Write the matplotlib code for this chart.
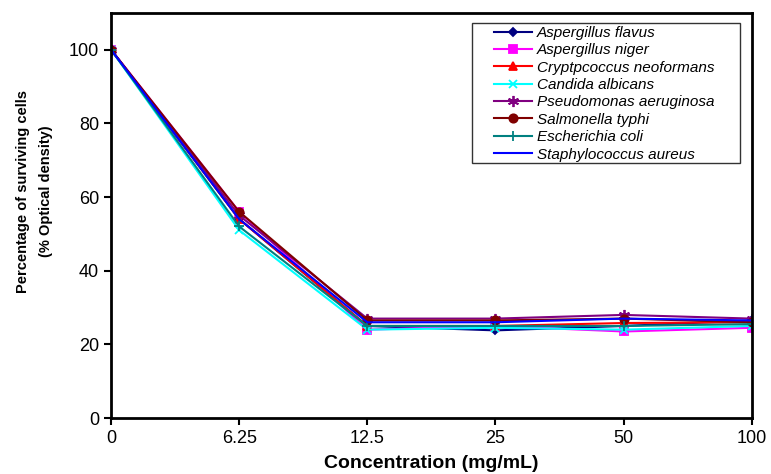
import numpy as np
import matplotlib
matplotlib.use("Agg")
import matplotlib.pyplot as plt
from matplotlib.patches import Rectangle

plt.rcParams["font.family"] = ["Liberation Sans", "DejaVu Sans"]

# concentrations (categorical x axis)
conc_labels = ["0", "6.25", "12.5", "25", "50", "100"]

# percentage of surviving cells
a_flavus = [100, 54, 25, 23.8, 25, 26.5]
a_niger = [100, 56, 24, 25, 23.5, 24.5]
c_neoformans = [100, 54, 25, 25, 25.8, 26]
c_albicans = [100, 51, 24, 24.5, 24, 25]
p_aeruginosa = [100, 55, 27, 27, 28, 27]
s_typhi = [100, 56, 26.5, 26.5, 27, 26]
e_coli = [100, 52, 25, 25, 25, 25.5]
s_aureus = [100, 54, 26, 26, 27, 26.5]

series = [
    ("Aspergillus flavus", a_flavus, "#000080", "D", 4),
    ("Aspergillus niger", a_niger, "#FF00FF", "s", 6),
    ("Cryptpcoccus neoformans", c_neoformans, "#FF0000", "^", 6),
    ("Candida albicans", c_albicans, "#00FFFF", "x", 6),
    ("Pseudomonas aeruginosa", p_aeruginosa, "#800080", (6, 2, 0), 8),
    ("Salmonella typhi", s_typhi, "#800000", "o", 6),
    ("Escherichia coli", e_coli, "#008080", "+", 7),
    ("Staphylococcus aureus", s_aureus, "#0000FF", None, 0),
]

fig = plt.figure(figsize=(7.71, 4.74), dpi=100)
ax = fig.add_axes([0.144, 0.118, 0.831, 0.855])

x = np.arange(len(conc_labels))
for name, vals, col, mk, ms in series:
    ax.plot(x, vals, color=col, marker=mk, markersize=ms, linewidth=1.5,
            markeredgewidth=1.3, label=name)

ax.set_xlim(0, 5)
ax.set_ylim(0, 110)
ax.set_xticks(x)
ax.set_xticklabels(conc_labels)
ax.set_yticks([0, 20, 40, 60, 80, 100])
ax.tick_params(direction="out", length=5, width=1.5, labelsize=13)
for s in ax.spines.values():
    s.set_linewidth(2)

ax.set_xlabel("Concentration (mg/mL)", fontsize=14, fontweight="bold")
ax.xaxis.set_label_coords(0.5, -0.09)
ax.set_ylabel("Percentage of surviving cells\n(% Optical density)",
              fontsize=10.5, fontweight="bold", linespacing=1.85)
ax.yaxis.set_label_coords(-0.09, 0.56)

# legend: Excel-like box with wide side padding
box = Rectangle((472 / 771, 1 - 163 / 474), 268 / 771, 140 / 474,
                transform=fig.transFigure, facecolor="white",
                edgecolor="#333333", linewidth=1, zorder=4, clip_on=False)
ax.add_patch(box)
leg = ax.legend(loc="upper left", bbox_to_anchor=(494 / 771, 1 - 26 / 474),
                bbox_transform=fig.transFigure, frameon=False,
                borderpad=0, borderaxespad=0, handlelength=2.5,
                labelspacing=0.22, handletextpad=0.33,
                prop={"style": "italic", "size": 11})
leg.set_zorder(5)

plt.savefig("out.png", dpi=100)
